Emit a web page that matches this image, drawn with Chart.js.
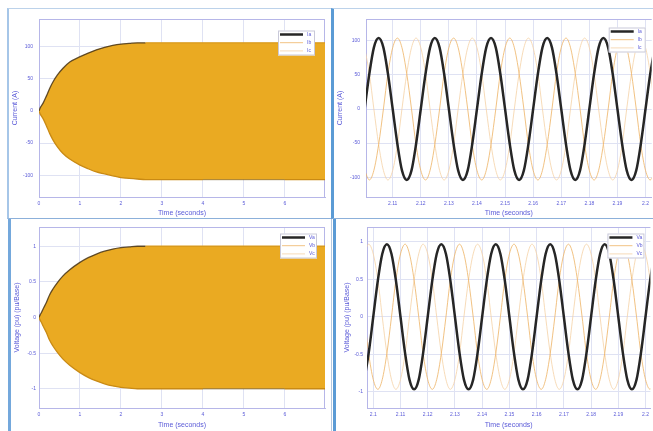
<!DOCTYPE html>
<html>
<head>
<meta charset="utf-8">
<title>Phase currents and voltages</title>
<script src="https://cdn.jsdelivr.net/npm/chart.js@4.4.1/dist/chart.umd.min.js"></script>
<style>
    html, body { margin: 0; padding: 0; background: #fff; }
    body { width: 653px; height: 431px; position: relative; overflow: hidden; }
    .frame { position: absolute; box-sizing: border-box; }
    canvas { position: absolute; }
</style>
</head>
<body>
<div class="frame" style="left:7px;top:8px;width:324px;height:211px;border-left:2px solid #a6c6e8;border-top:1px solid #bcd2ea;border-bottom:1px solid #8cb0da;"></div>
<div class="frame" style="left:331px;top:8px;width:322px;height:211px;border-left:3px solid #5b9bd5;border-top:1px solid #bcd2ea;border-bottom:1px solid #8cb0da;"></div>
<div class="frame" style="left:8px;top:219px;width:324px;height:212px;border-left:3px solid #74a8dc;border-right:1px solid #b4c8e0;"></div>
<div class="frame" style="left:333px;top:219px;width:320px;height:212px;border-left:3px solid #5b9bd5;"></div>

<canvas id="curEnvChart" width="321" height="207" style="left:9px;top:10px"></canvas>
<canvas id="curWaveChart" width="319" height="207" style="left:334px;top:10px"></canvas>
<canvas id="voltEnvChart" width="320" height="211" style="left:10px;top:220px"></canvas>
<canvas id="voltWaveChart" width="316" height="211" style="left:337px;top:220px"></canvas>

<script>
// Envelope of the three phases while the machine builds up (0 - 7 s)
const envTime = [0, 0.03, 0.06, 0.1, 0.18, 0.26, 0.34, 0.45, 0.58, 0.75, 0.99, 1.2, 1.4, 1.6, 1.8, 2.0, 2.2, 2.4, 2.6, 3.0, 4.0, 5.0, 6.0, 7.0];
const curUpper = [0, 5, 8, 12, 23, 35, 45, 56, 66, 76, 84, 90, 95, 99, 102, 104, 105, 106, 106, 106, 106, 106, 106, 106];
const curLower = [0, -5, -8, -12, -23, -35, -45, -56, -66, -75, -84, -90, -95, -98, -101, -104, -105, -106, -107, -107, -107, -107, -107, -107];
const voltUpper = [0, 0.04, 0.07, 0.12, 0.21, 0.32, 0.4, 0.49, 0.58, 0.67, 0.77, 0.84, 0.89, 0.93, 0.96, 0.98, 0.99, 1.0, 1.0, 1.0, 1.0, 1.0, 1.0, 1.0];
const voltLower = [0, -0.04, -0.07, -0.12, -0.21, -0.32, -0.4, -0.49, -0.58, -0.67, -0.77, -0.84, -0.89, -0.93, -0.96, -0.98, -0.99, -1.0, -1.0, -1.0, -1.0, -1.0, -1.0, -1.0];

// Steady-state window, 2.10 - 2.20 s
const curTime = [
    2.1000, 2.1017, 2.1033, 2.1050, 2.1067, 2.1083,
    2.1100, 2.1117, 2.1133, 2.1150, 2.1167, 2.1183,
    2.1200, 2.1217, 2.1233, 2.1250, 2.1267, 2.1283,
    2.1300, 2.1317, 2.1333, 2.1350, 2.1367, 2.1383,
    2.1400, 2.1417, 2.1433, 2.1450, 2.1467, 2.1483,
    2.1500, 2.1517, 2.1533, 2.1550, 2.1567, 2.1583,
    2.1600, 2.1617, 2.1633, 2.1650, 2.1667, 2.1683,
    2.1700, 2.1717, 2.1733, 2.1750, 2.1767, 2.1783,
    2.1800, 2.1817, 2.1833, 2.1850, 2.1867, 2.1883,
    2.1900, 2.1917, 2.1933, 2.1950, 2.1967, 2.1983,
    2.2000, 2.2017, 2.2033
];
const curIa = [
    0, 52, 90, 104, 90, 52, 0, -52, -90, -104, -90, -52,
    0, 52, 90, 104, 90, 52, 0, -52, -90, -104, -90, -52,
    0, 52, 90, 104, 90, 52, 0, -52, -90, -104, -90, -52,
    0, 52, 90, 104, 90, 52, 0, -52, -90, -104, -90, -52,
    0, 52, 90, 104, 90, 52, 0, -52, -90, -104, -90, -52,
    0, 52, 90
];
const curIb = [
    -90, -104, -90, -52, 0, 52, 90, 104, 90, 52, 0, -52,
    -90, -104, -90, -52, 0, 52, 90, 104, 90, 52, 0, -52,
    -90, -104, -90, -52, 0, 52, 90, 104, 90, 52, 0, -52,
    -90, -104, -90, -52, 0, 52, 90, 104, 90, 52, 0, -52,
    -90, -104, -90, -52, 0, 52, 90, 104, 90, 52, 0, -52,
    -90, -104, -90
];
const curIc = [
    90, 52, 0, -52, -90, -104, -90, -52, 0, 52, 90, 104,
    90, 52, 0, -52, -90, -104, -90, -52, 0, 52, 90, 104,
    90, 52, 0, -52, -90, -104, -90, -52, 0, 52, 90, 104,
    90, 52, 0, -52, -90, -104, -90, -52, 0, 52, 90, 104,
    90, 52, 0, -52, -90, -104, -90, -52, 0, 52, 90, 104,
    90, 52, 0
];

const voltTime = [
    2.0967, 2.0983,
    2.1000, 2.1017, 2.1033, 2.1050, 2.1067, 2.1083,
    2.1100, 2.1117, 2.1133, 2.1150, 2.1167, 2.1183,
    2.1200, 2.1217, 2.1233, 2.1250, 2.1267, 2.1283,
    2.1300, 2.1317, 2.1333, 2.1350, 2.1367, 2.1383,
    2.1400, 2.1417, 2.1433, 2.1450, 2.1467, 2.1483,
    2.1500, 2.1517, 2.1533, 2.1550, 2.1567, 2.1583,
    2.1600, 2.1617, 2.1633, 2.1650, 2.1667, 2.1683,
    2.1700, 2.1717, 2.1733, 2.1750, 2.1767, 2.1783,
    2.1800, 2.1817, 2.1833, 2.1850, 2.1867, 2.1883,
    2.1900, 2.1917, 2.1933, 2.1950, 2.1967, 2.1983,
    2.2000, 2.2017, 2.2033
];
const voltVa = [
    -0.84, -0.49,
    0, 0.49, 0.84, 0.97, 0.84, 0.49, 0, -0.49, -0.84, -0.97, -0.84, -0.49,
    0, 0.49, 0.84, 0.97, 0.84, 0.49, 0, -0.49, -0.84, -0.97, -0.84, -0.49,
    0, 0.49, 0.84, 0.97, 0.84, 0.49, 0, -0.49, -0.84, -0.97, -0.84, -0.49,
    0, 0.49, 0.84, 0.97, 0.84, 0.49, 0, -0.49, -0.84, -0.97, -0.84, -0.49,
    0, 0.49, 0.84, 0.97, 0.84, 0.49, 0, -0.49, -0.84, -0.97, -0.84, -0.49,
    0, 0.49, 0.84
];
const voltVb = [
    0, -0.49,
    -0.84, -0.97, -0.84, -0.49, 0, 0.49, 0.84, 0.97, 0.84, 0.49, 0, -0.49,
    -0.84, -0.97, -0.84, -0.49, 0, 0.49, 0.84, 0.97, 0.84, 0.49, 0, -0.49,
    -0.84, -0.97, -0.84, -0.49, 0, 0.49, 0.84, 0.97, 0.84, 0.49, 0, -0.49,
    -0.84, -0.97, -0.84, -0.49, 0, 0.49, 0.84, 0.97, 0.84, 0.49, 0, -0.49,
    -0.84, -0.97, -0.84, -0.49, 0, 0.49, 0.84, 0.97, 0.84, 0.49, 0, -0.49,
    -0.84, -0.97, -0.84
];
const voltVc = [
    0.84, 0.97,
    0.84, 0.49, 0, -0.49, -0.84, -0.97, -0.84, -0.49, 0, 0.49, 0.84, 0.97,
    0.84, 0.49, 0, -0.49, -0.84, -0.97, -0.84, -0.49, 0, 0.49, 0.84, 0.97,
    0.84, 0.49, 0, -0.49, -0.84, -0.97, -0.84, -0.49, 0, 0.49, 0.84, 0.97,
    0.84, 0.49, 0, -0.49, -0.84, -0.97, -0.84, -0.49, 0, 0.49, 0.84, 0.97,
    0.84, 0.49, 0, -0.49, -0.84, -0.97, -0.84, -0.49, 0, 0.49, 0.84, 0.97,
    0.84, 0.49, 0
];

const currentLabels = ['Ia', 'Ib', 'Ic'];
const voltageLabels = ['Va', 'Vb', 'Vc'];

const TEXT_BLUE = '#5b5bd8';
const GRID = '#dfe2f3';
const AXIS_LINE = '#b6b6e8';
const FILL = 'rgb(234,170,34)';
const FONT = '"Liberation Sans", Arial, sans-serif';
const PHASE_STYLE = [
    { color: '#262626', width: 2.5 },
    { color: '#eeb263', width: 0.8 },
    { color: '#f5d2a6', width: 0.8 }
];

const toPoints = (xs, ys) => xs.map((x, i) => ({ x, y: ys[i] }));
const plainNumber = v => String(Number(v.toFixed(4)));

// small boxed legend in the upper right of the plot
const boxLegend = {
    id: 'boxLegend',
    afterDatasetsDraw(chart, args, opts) {
        const { ctx, chartArea } = chart;
        const w = 37, h = 25;
        const x = chartArea.right - opts.right - w;
        const y = chartArea.top + opts.top;
        ctx.save();
        ctx.fillStyle = '#fff';
        ctx.fillRect(x, y, w, h);
        ctx.strokeStyle = '#c9c9d9';
        ctx.lineWidth = 1;
        ctx.strokeRect(x + 0.5, y + 0.5, w - 1, h - 1);
        ctx.font = '5px ' + FONT;
        ctx.textBaseline = 'middle';
        opts.labels.forEach((label, i) => {
            const ly = y + 4 + i * 8.2;
            ctx.strokeStyle = PHASE_STYLE[i].color;
            ctx.lineWidth = PHASE_STYLE[i].width;
            ctx.beginPath();
            ctx.moveTo(x + 2, ly);
            ctx.lineTo(x + 25, ly);
            ctx.stroke();
            ctx.fillStyle = TEXT_BLUE;
            ctx.fillText(label, x + 29, ly);
        });
        ctx.restore();
    }
};

// top (and optionally right) edge of the plot box
const plotFrame = {
    id: 'plotFrame',
    beforeDatasetsDraw(chart, args, opts) {
        const { ctx, chartArea: a } = chart;
        ctx.save();
        ctx.strokeStyle = AXIS_LINE;
        ctx.lineWidth = 1;
        ctx.beginPath();
        ctx.moveTo(a.left, a.top + 0.5);
        ctx.lineTo(a.right, a.top + 0.5);
        if (opts.right) {
            ctx.moveTo(a.right - 0.5, a.top);
            ctx.lineTo(a.right - 0.5, a.bottom);
        }
        ctx.stroke();
        ctx.restore();
    }
};

function makeChart(canvasId, cfg) {
    const canvas = document.getElementById(canvasId);
    const W = canvas.width, H = canvas.height;
    const a = cfg.area;
    return new Chart(canvas, {
        type: 'line',
        data: { datasets: cfg.datasets },
        options: {
            responsive: false,
            animation: false,
            events: [],
            layout: { padding: { left: 0, top: a.top, right: W - a.right, bottom: 0 } },
            plugins: {
                legend: { display: false },
                tooltip: { enabled: false },
                boxLegend: { labels: cfg.legend, right: cfg.legendAt[0], top: cfg.legendAt[1] },
                plotFrame: { right: cfg.frameRight }
            },
            scales: {
                x: {
                    type: 'linear',
                    min: cfg.x[0],
                    max: cfg.x[1],
                    afterFit: s => { s.height = H - a.bottom; },
                    ticks: {
                        stepSize: cfg.x[2],
                        includeBounds: false,
                        maxRotation: 0,
                        autoSkip: false,
                        padding: 4,
                        color: TEXT_BLUE,
                        font: { size: 5, family: FONT },
                        callback: plainNumber
                    },
                    grid: { color: GRID, drawTicks: false },
                    border: { color: AXIS_LINE },
                    title: {
                        display: true,
                        text: 'Time (seconds)',
                        color: TEXT_BLUE,
                        font: { size: 7, family: FONT },
                        padding: { top: 0, bottom: cfg.xTitlePad }
                    }
                },
                y: {
                    min: cfg.y[0],
                    max: cfg.y[1],
                    afterFit: s => { s.width = a.left; },
                    ticks: {
                        stepSize: cfg.y[2],
                        includeBounds: false,
                        padding: cfg.yTickPad,
                        color: TEXT_BLUE,
                        font: { size: 5, family: FONT },
                        callback: plainNumber
                    },
                    grid: { color: GRID, drawTicks: false },
                    border: { color: AXIS_LINE },
                    title: {
                        display: true,
                        text: cfg.yTitle,
                        color: TEXT_BLUE,
                        font: { size: 7, family: FONT },
                        padding: { top: cfg.yTitlePad, bottom: 0 }
                    }
                }
            }
        },
        plugins: [plotFrame, boxLegend]
    });
}

// Dense oscillation drawn as a filled band between the upper and lower
// envelope; the two edge traces sit on top so their colour can change
// along the time axis without splitting the fill.
function envelopeSets(upper, lower, labels) {
    const edge = {
        borderWidth: 1.3,
        pointRadius: 0,
        fill: false,
        cubicInterpolationMode: 'monotone'
    };
    return [
        {
            ...edge,
            label: labels[0],
            data: toPoints(envTime, upper),
            borderColor: '#d99a1c',
            segment: { borderColor: c => c.p1.parsed.x <= 2.6 ? 'rgba(70,50,20,0.85)' : '#d99a1c' }
        },
        {
            ...edge,
            label: labels[1],
            data: toPoints(envTime, lower),
            borderColor: '#c98a14',
            segment: {
                borderColor: c => (c.p0.parsed.x >= 3.9 && c.p1.parsed.x <= 6.5) ? 'rgba(100,70,20,0.45)' : '#c98a14'
            }
        },
        {
            label: labels[0] + ' band',
            data: toPoints(envTime, upper),
            borderWidth: 0,
            backgroundColor: FILL,
            fill: '+1',
            pointRadius: 0,
            cubicInterpolationMode: 'monotone'
        },
        {
            label: labels[1] + ' band',
            data: toPoints(envTime, lower),
            borderWidth: 0,
            fill: false,
            pointRadius: 0,
            cubicInterpolationMode: 'monotone'
        }
    ];
}

function phaseSets(time, series, labels) {
    return series.map((ys, i) => ({
        label: labels[i],
        data: toPoints(time, ys),
        borderColor: PHASE_STYLE[i].color,
        borderWidth: PHASE_STYLE[i].width,
        pointRadius: 0,
        fill: false,
        cubicInterpolationMode: 'monotone'
    }));
}

makeChart('curEnvChart', {
    area: { left: 30, top: 2, right: 316, bottom: 187 },
    x: [0, 6.98, 1],
    y: [-134, 143, 50],
    yTitle: 'Current (A)',
    xTitlePad: 0,
    yTitlePad: 2,
    yTickPad: 6,
    frameRight: true,
    legend: currentLabels,
    legendAt: [10, 11.5],
    datasets: envelopeSets(curUpper, curLower, currentLabels)
});

makeChart('curWaveChart', {
    area: { left: 32, top: 5, right: 319, bottom: 187 },
    x: [2.1005, 2.2022, 0.01],
    y: [-129, 132, 50],
    yTitle: 'Current (A)',
    xTitlePad: 0,
    yTitlePad: 2,
    yTickPad: 6,
    frameRight: false,
    legend: currentLabels,
    legendAt: [6, 8.5],
    datasets: phaseSets(curTime, [curIa, curIb, curIc], currentLabels)
});

makeChart('voltEnvChart', {
    area: { left: 29, top: 7, right: 315, bottom: 188 },
    x: [0, 6.98, 1],
    y: [-1.27, 1.27, 0.5],
    yTitle: 'Voltage (pu) (pu/Base)',
    xTitlePad: 2,
    yTitlePad: 2.5,
    yTickPad: 3,
    frameRight: true,
    legend: voltageLabels,
    legendAt: [8, 6.5],
    datasets: envelopeSets(voltUpper, voltLower, voltageLabels)
});

makeChart('voltWaveChart', {
    area: { left: 30, top: 7, right: 316, bottom: 188 },
    x: [2.0977, 2.2018, 0.01],
    y: [-1.22, 1.2, 0.5],
    yTitle: 'Voltage (pu) (pu/Base)',
    xTitlePad: 2,
    yTitlePad: 5.5,
    yTickPad: 4,
    frameRight: false,
    legend: voltageLabels,
    legendAt: [6, 6.5],
    datasets: phaseSets(voltTime, [voltVa, voltVb, voltVc], voltageLabels)
});
</script>
</body>
</html>
